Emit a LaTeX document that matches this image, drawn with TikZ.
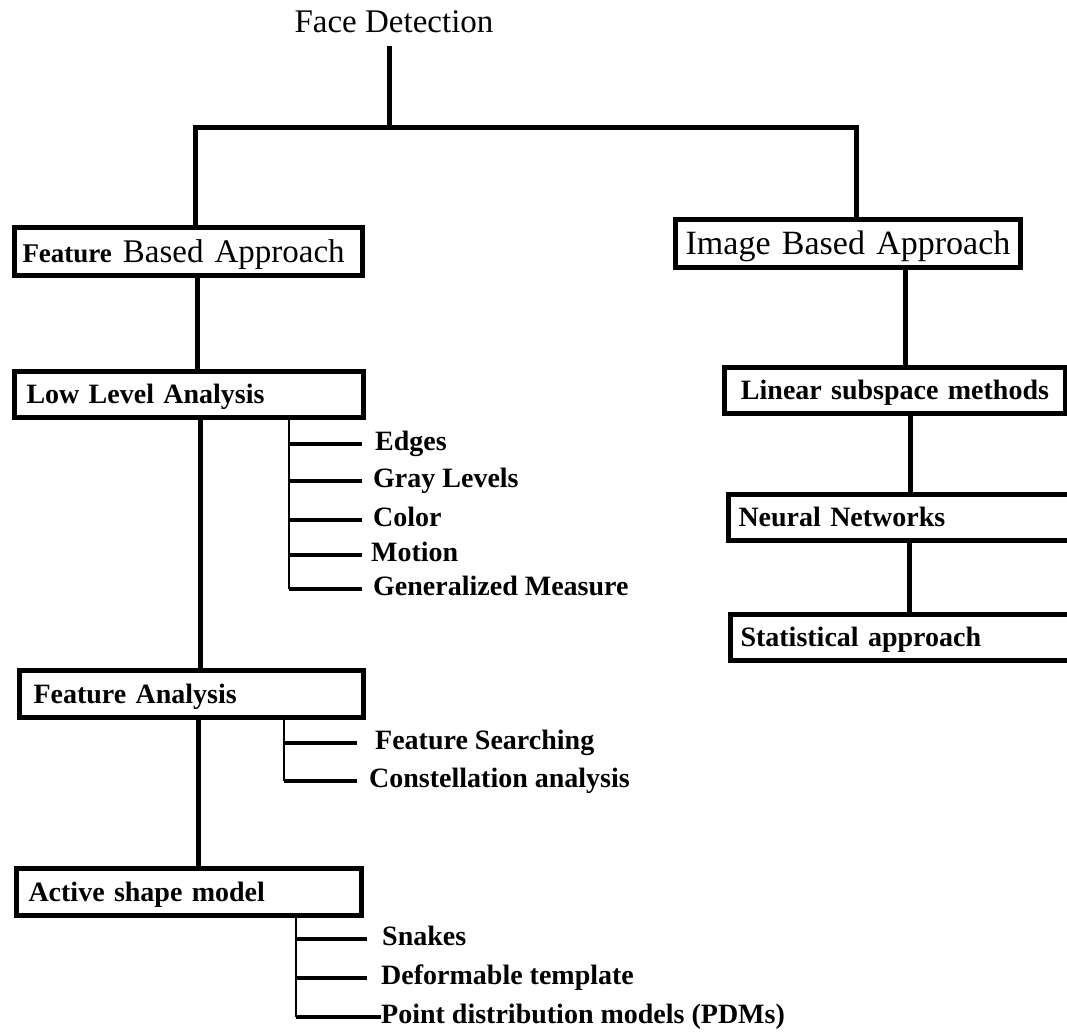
\documentclass[tikz,border=0pt]{standalone}
\usepackage{fontspec}
\setmainfont{Liberation Serif}
\begin{document}
\begin{tikzpicture}[x=1pt,y=-1pt,
  conn/.style={line width=5pt, line join=miter},
  box/.style={draw, line width=5pt, rectangle, anchor=north west,
    inner ysep=0pt, text depth=0pt, text height=18.5pt, align=left,
    font=\fontsize{28}{30}\selectfont\bfseries},
  trunk/.style={line width=2.4pt},
  stub/.style={line width=3.4pt},
  leaf/.style={anchor=west, inner sep=0pt, text height=12pt, text depth=0pt,
    font=\fontsize{28}{30}\selectfont\bfseries}
]
\clip (0,0) rectangle (1067,1035);
\fill[white] (0,0) rectangle (1067,1035);

% root
\node[font=\fontsize{33}{36}\selectfont, anchor=base] (fd) at (394,33) {Face Detection};

% first level
\node[box, minimum width=348pt, minimum height=48pt, inner xsep=8pt, text width=332pt,
  text height=21pt, font=\fontsize{33}{36}\selectfont] (fba) at (12,225)
  {{\fontsize{27}{30}\selectfont\bfseries Feature} Based Approach};
\node[box, minimum width=345pt, minimum height=48pt, inner xsep=10pt, text width=325pt,
  align=center, text height=22pt, font=\fontsize{34}{36}\selectfont] (iba) at (673,217)
  {Image Based Approach};

% feature based branch
\node[box, minimum width=349pt, minimum height=46pt, inner xsep=12pt, text width=325pt] (low) at (12,369) {Low Level Analysis};
\node[box, minimum width=344pt, minimum height=47pt, inner xsep=14pt, text width=316pt] (fea) at (17,668) {Feature Analysis};
\node[box, minimum width=345pt, minimum height=47pt, inner xsep=12pt, text width=321pt] (asm) at (14,866) {Active shape model};

% image based branch
\node[box, minimum width=341pt, minimum height=46pt, inner xsep=8pt, text width=325pt, align=center] (lin) at (722,365) {Linear subspace methods};
\node[box, minimum width=360pt, minimum height=46pt, inner xsep=10pt, text width=340pt] (neu) at (726,492) {Neural Networks};
\node[box, minimum width=360pt, minimum height=46pt, inner xsep=10pt, text width=340pt] (sta) at (728,612) {Statistical approach};

% junctions of the main tree
\coordinate (j0) at (389,128);
\coordinate (jl) at (195,128);
\coordinate (jr) at (856,128);
\coordinate (xa) at (197,0);
\coordinate (xb) at (200,0);
\coordinate (xc) at (198,0);
\coordinate (xd) at (905,0);
\coordinate (xe) at (910,0);
\coordinate (xf) at (909,0);

\draw[conn, shorten <=9pt] (fd.south -| j0) -- (j0);
\draw[conn] (jl |- fba.north) -- (jl) -- (jr) -- (jr |- iba.north);
\draw[conn] (fba.south -| xa) -- (low.north -| xa);
\draw[conn] (low.south -| xb) -- (fea.north -| xb);
\draw[conn] (fea.south -| xc) -- (asm.north -| xc);
\draw[conn] (iba.south -| xd) -- (lin.north -| xd);
\draw[conn] (lin.south -| xe) -- (neu.north -| xe);
\draw[conn] (neu.south -| xf) -- (sta.north -| xf);

% low level analysis leaves
\node[leaf] (edges) at (375,444) {Edges};
\node[leaf] (gray) at (373,481) {Gray Levels};
\node[leaf] (color) at (373,520) {Color};
\node[leaf] (motion) at (371,555) {Motion};
\node[leaf] (gm) at (373,589) {Generalized Measure};
\coordinate (lt) at (289,0);
\coordinate (le) at (362,0);
\draw[trunk] (low.south -| lt) -- (lt |- gm.west);
\foreach \n in {edges,gray,color,motion,gm}
  \draw[stub] (lt |- \n.west) -- (le |- \n.west);

% feature analysis leaves
\node[leaf] (fs) at (375,743) {Feature Searching};
\node[leaf] (ca) at (369,781) {Constellation analysis};
\coordinate (ft) at (284,0);
\coordinate (fe) at (357,0);
\draw[trunk] (fea.south -| ft) -- (ft |- ca.west);
\foreach \n in {fs,ca}
  \draw[stub] (ft |- \n.west) -- (fe |- \n.west);

% active shape model leaves
\node[leaf] (sn) at (382,939) {Snakes};
\node[leaf] (dt) at (381,978) {Deformable template};
\node[leaf] (pd) at (381,1017) {Point distribution models (PDMs)};
\coordinate (at) at (296,0);
\coordinate (ae) at (367,0);
\draw[trunk] (asm.south -| at) -- (at |- pd.west);
\foreach \n in {sn,dt}
  \draw[stub] (at |- \n.west) -- (ae |- \n.west);
\draw[stub] (at |- pd.west) -- (pd.west);
\end{tikzpicture}
\end{document}
